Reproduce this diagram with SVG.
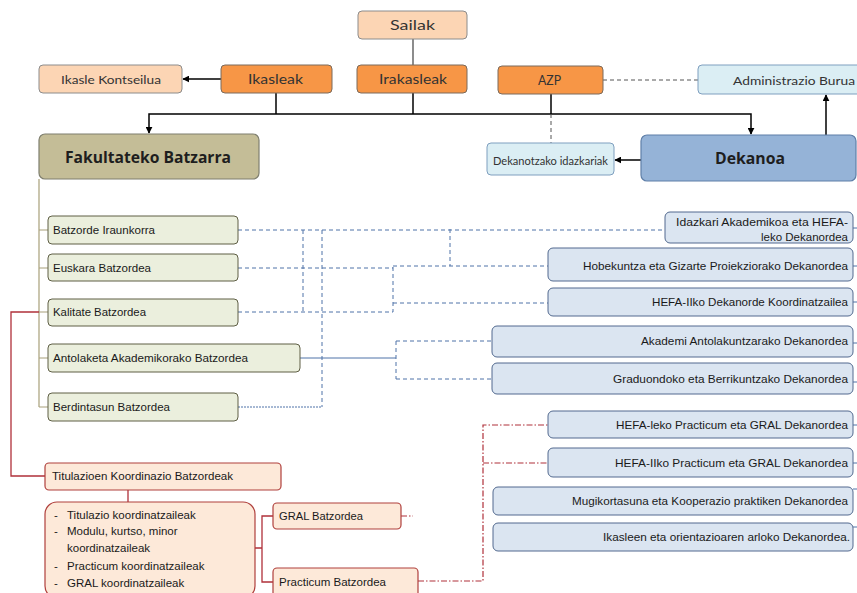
<svg xmlns="http://www.w3.org/2000/svg" width="857" height="593" viewBox="0 0 857 593">
<defs>
<marker id="ah" viewBox="0 0 10 10" refX="9" refY="5" markerWidth="7" markerHeight="7" markerUnits="userSpaceOnUse" orient="auto">
<path d="M0,0 L10,5 L0,10 z" fill="#000"/>
</marker>
<style>
text{font-family:"Liberation Sans",Arial,sans-serif;fill:#1a1a1a;dominant-baseline:central}
.top{font-family:Lato,"Open Sans",sans-serif;font-size:13px;fill:#333}
.big{font-family:"Open Sans",Lato,sans-serif;font-size:16px;font-weight:bold;fill:#1e1e1e}
.sm{font-family:"Liberation Sans",Arial,sans-serif;font-size:11.5px}
.peach{fill:#fcd5b4;stroke:#8c8c8c;stroke-width:1}
.orange{fill:#f79646;stroke:#7a6a5c;stroke-width:1}
.cyan{fill:#dbeef4;stroke:#7f9fbf;stroke-width:1}
.olive{fill:#ebefdd;stroke:#5f5f45;stroke-width:1}
.blue{fill:#dbe5f1;stroke:#52698f;stroke-width:1}
.red{fill:#fde9d9;stroke:#b0403d;stroke-width:1.2}
.k{stroke:#000;stroke-width:1.5;fill:none}
.g{stroke:#404040;stroke-width:1.2;fill:none}
.gd{stroke:#555;stroke-width:1;fill:none;stroke-dasharray:4 3}
.bd{stroke:#4f73a8;stroke-width:1;fill:none;stroke-dasharray:4 3}
.bdot{stroke:#4f73a8;stroke-width:1;fill:none;stroke-dasharray:2 1}
.bs{stroke:#4f73a8;stroke-width:1;fill:none}
.ol{stroke:#a8a07a;stroke-width:1.2;fill:none}
.rl{stroke:#b0303a;stroke-width:1.3;fill:none}
.rdd{stroke:#b0303a;stroke-width:1.2;fill:none;stroke-dasharray:6 2 1.5 2}
</style>
</defs>

<g id="connectors">
<line class="g" x1="413" y1="39" x2="413" y2="65"/>
<line class="k" x1="221" y1="79" x2="183" y2="79" marker-end="url(#ah)"/>
<line class="k" x1="276" y1="93" x2="276" y2="114"/>
<line class="k" x1="413" y1="93" x2="413" y2="114"/>
<line class="k" x1="551" y1="94" x2="551" y2="114"/>
<path class="k" d="M276,114 H149 V133" marker-end="url(#ah)"/>
<path class="k" d="M276,114 H751 V134" marker-end="url(#ah)"/>
<line class="gd" x1="551" y1="114" x2="551" y2="143"/>
<line class="gd" x1="603" y1="80" x2="698" y2="80"/>
<line class="k" x1="641" y1="160" x2="615" y2="160" marker-end="url(#ah)"/>
<line class="k" x1="826" y1="135" x2="826" y2="95" marker-end="url(#ah)"/>
<path class="ol" d="M39,179 V407 M39,230 H48 M39,268 H48 M39,312 H48 M39,358 H48 M39,407 H48"/>
<path class="rl" d="M39,312 H11 V476 H45"/>
<path class="rl" d="M128,490 V502 M255,548 H262 M273,516 H262 V582 H273"/>
<path class="bd" d="M238,230 H665"/>
<path class="bd" d="M303,230 V312"/>
<path class="bd" d="M322,230 V407"/>
<path class="bd" d="M450,229 V266"/>
<path class="bd" d="M238,268 H393"/>
<path class="bd" d="M393,266 H548"/>
<path class="bd" d="M238,312 H393 V266"/>
<path class="bd" d="M393,303 H548"/>
<path class="bs" d="M300,358 H396"/>
<path class="bd" d="M396,341 V379 M396,341 H492 M396,379 H492"/>
<path class="bdot" d="M238,407 H322"/>
<path class="rdd" d="M401,516 H413"/>
<path class="rdd" d="M418,581 H483 V425 H548 M483,463 H548"/>
<path class="bs" d="M853,228 H857 M853,266 H857 M853,302 H857 M853,343 H857 M853,382 H857 M853,425 H857 M853,463 H857 M853,489 H857 M853,527 H857"/>
</g>

<g id="sailak"><rect class="peach" x="358" y="11" width="109" height="28" rx="4"/><text class="top" x="390" y="25" textLength="45" lengthAdjust="spacingAndGlyphs">Sailak</text></g>
<g id="ikasle-kontseilua"><rect class="peach" x="39" y="65" width="143" height="28" rx="4"/><text class="top" x="61" y="79" textLength="100" lengthAdjust="spacingAndGlyphs" style="font-size:12px">Ikasle Kontseilua</text></g>
<g id="ikasleak"><rect class="orange" x="221" y="65" width="111" height="28" rx="4"/><text class="top" x="248" y="79" textLength="55" lengthAdjust="spacingAndGlyphs">Ikasleak</text></g>
<g id="irakasleak"><rect class="orange" x="357" y="65" width="110" height="28" rx="4"/><text class="top" x="379" y="79" textLength="68" lengthAdjust="spacingAndGlyphs">Irakasleak</text></g>
<g id="azp"><rect class="orange" x="498" y="66" width="105" height="28" rx="4"/><text class="top" x="538" y="80" textLength="23" lengthAdjust="spacingAndGlyphs">AZP</text></g>
<g id="administrazio-burua"><rect class="cyan" x="698" y="65" width="170" height="29" rx="4"/><text class="top" x="733" y="80" textLength="122" lengthAdjust="spacingAndGlyphs" style="font-size:12px">Administrazio Burua</text></g>
<g id="dekanotzako"><rect class="cyan" x="487" y="143" width="127" height="32" rx="4"/><text class="top" x="493" y="160" textLength="115" lengthAdjust="spacingAndGlyphs" style="font-size:11px">Dekanotzako idazkariak</text></g>
<g id="fakultateko-batzarra"><rect x="39" y="134" width="220" height="45" rx="6" fill="#c4bd97" stroke="#7f7f6f" stroke-width="1.2"/><text class="big" x="65" y="157" textLength="166" lengthAdjust="spacingAndGlyphs">Fakultateko Batzarra</text></g>
<g id="dekanoa"><rect x="641" y="135" width="215" height="46" rx="6" fill="#95b3d7" stroke="#5f7fa8" stroke-width="1.2"/><text class="big" x="715" y="158" textLength="70" lengthAdjust="spacingAndGlyphs">Dekanoa</text></g>

<g id="batzorde-iraunkorra"><rect class="olive" x="48" y="216" width="190" height="28" rx="4"/><text class="sm" x="53" y="230" textLength="102" lengthAdjust="spacingAndGlyphs">Batzorde Iraunkorra</text></g>
<g id="euskara-batzordea"><rect class="olive" x="48" y="254" width="190" height="27" rx="4"/><text class="sm" x="53" y="268" textLength="98" lengthAdjust="spacingAndGlyphs">Euskara Batzordea</text></g>
<g id="kalitate-batzordea"><rect class="olive" x="48" y="299" width="190" height="27" rx="4"/><text class="sm" x="53" y="312" textLength="93" lengthAdjust="spacingAndGlyphs">Kalitate Batzordea</text></g>
<g id="antolaketa"><rect class="olive" x="48" y="344" width="252" height="28" rx="4"/><text class="sm" x="53" y="358" textLength="195" lengthAdjust="spacingAndGlyphs">Antolaketa Akademikorako Batzordea</text></g>
<g id="berdintasun"><rect class="olive" x="48" y="393" width="190" height="28" rx="4"/><text class="sm" x="53" y="407" textLength="117" lengthAdjust="spacingAndGlyphs">Berdintasun Batzordea</text></g>

<g id="titulazioen"><rect class="red" x="45" y="463" width="236" height="27" rx="4"/><text class="sm" x="52" y="476" textLength="181" lengthAdjust="spacingAndGlyphs">Titulazioen Koordinazio Batzordeak</text></g>
<g id="koordinatzaileak"><rect class="red" x="45" y="502" width="210" height="96" rx="12"/>
<text class="sm" x="54" y="515">-</text><text class="sm" x="67" y="515">Titulazio koordinatzaileak</text>
<text class="sm" x="54" y="531">-</text><text class="sm" x="67" y="531">Modulu, kurtso, minor</text>
<text class="sm" x="67" y="548">koordinatzaileak</text>
<text class="sm" x="54" y="566">-</text><text class="sm" x="67" y="566">Practicum koordinatzaileak</text>
<text class="sm" x="54" y="583">-</text><text class="sm" x="67" y="583">GRAL koordinatzaileak</text>
</g>
<g id="gral-batzordea"><rect class="red" x="273" y="503" width="128" height="26" rx="4"/><text class="sm" x="279" y="516" textLength="84" lengthAdjust="spacingAndGlyphs">GRAL Batzordea</text></g>
<g id="practicum-batzordea"><rect class="red" x="273" y="568" width="145" height="30" rx="4"/><text class="sm" x="279" y="582" textLength="107" lengthAdjust="spacingAndGlyphs">Practicum Batzordea</text></g>

<g id="idazkari-akademikoa"><rect class="blue" x="665" y="212" width="188" height="31" rx="5"/><text class="sm" x="676" y="222" textLength="172" lengthAdjust="spacingAndGlyphs">Idazkari Akademikoa eta HEFA-</text><text class="sm" x="761" y="237" textLength="87" lengthAdjust="spacingAndGlyphs">leko Dekanordea</text></g>
<g id="hobekuntza"><rect class="blue" x="548" y="248" width="305" height="33" rx="5"/><text class="sm" x="583" y="266" textLength="265" lengthAdjust="spacingAndGlyphs">Hobekuntza eta Gizarte Proiekziorako Dekanordea</text></g>
<g id="hefa-iiko-koordinatzailea"><rect class="blue" x="548" y="288" width="305" height="28" rx="5"/><text class="sm" x="652" y="302" textLength="196" lengthAdjust="spacingAndGlyphs">HEFA-IIko Dekanorde Koordinatzailea</text></g>
<g id="akademi-antolakuntzarako"><rect class="blue" x="492" y="326" width="361" height="31" rx="5"/><text class="sm" x="641" y="341" textLength="207" lengthAdjust="spacingAndGlyphs">Akademi Antolakuntzarako Dekanordea</text></g>
<g id="graduondoko"><rect class="blue" x="492" y="363" width="361" height="31" rx="5"/><text class="sm" x="613" y="379" textLength="235" lengthAdjust="spacingAndGlyphs">Graduondoko eta Berrikuntzako Dekanordea</text></g>
<g id="hefa-leko-practicum"><rect class="blue" x="548" y="411" width="305" height="27" rx="5"/><text class="sm" x="616" y="425" textLength="232" lengthAdjust="spacingAndGlyphs">HEFA-leko Practicum eta GRAL Dekanordea</text></g>
<g id="hefa-iiko-practicum"><rect class="blue" x="548" y="448" width="305" height="29" rx="5"/><text class="sm" x="615" y="463" textLength="233" lengthAdjust="spacingAndGlyphs">HEFA-IIko Practicum eta GRAL Dekanordea</text></g>
<g id="mugikortasuna"><rect class="blue" x="493" y="487" width="360" height="28" rx="5"/><text class="sm" x="572" y="501" textLength="276" lengthAdjust="spacingAndGlyphs">Mugikortasuna eta Kooperazio praktiken Dekanordea</text></g>
<g id="ikasleen"><rect class="blue" x="493" y="523" width="360" height="28" rx="5"/><text class="sm" x="603" y="537" textLength="247" lengthAdjust="spacingAndGlyphs">Ikasleen eta orientazioaren arloko Dekanordea.</text></g>
</svg>
